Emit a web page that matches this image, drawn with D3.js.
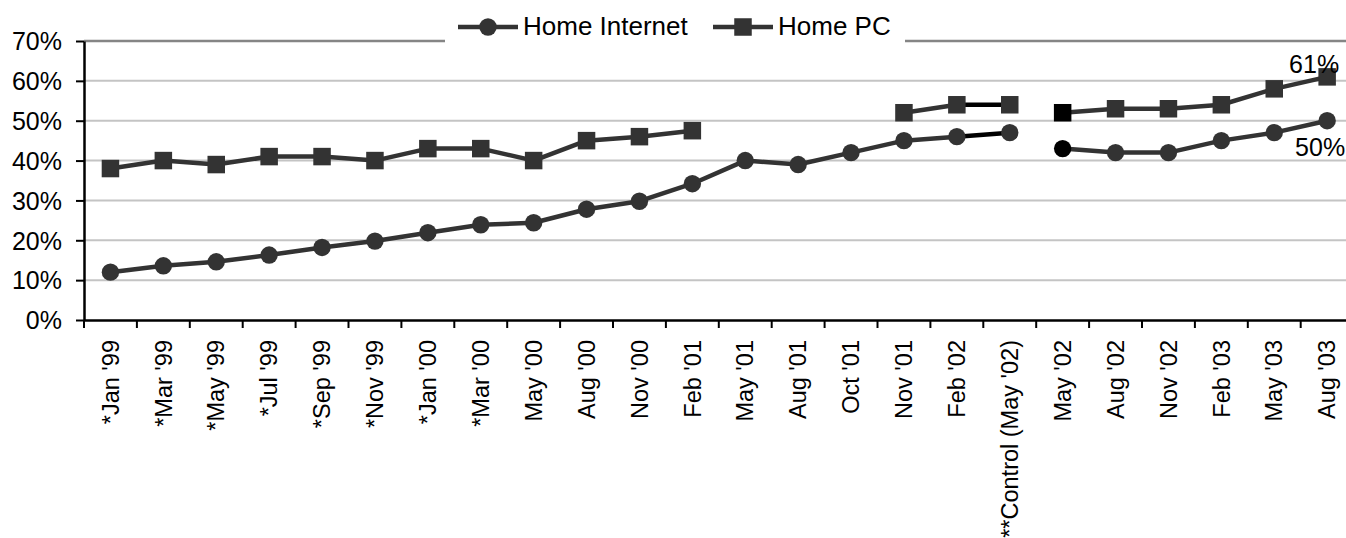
<!DOCTYPE html>
<html>
<head>
<meta charset="utf-8">
<script src="https://cdn.jsdelivr.net/npm/d3@7"></script>
<style>
  body { margin: 0; background: #fff; }
  svg text { font-family: "Liberation Sans", Arial, sans-serif; fill: #000; }
</style>
</head>
<body>
<svg id="chart" width="1346" height="538"></svg>
<script>
// Survey waves
const categories = [
  "*Jan '99", "*Mar '99", "*May '99", "*Jul '99", "*Sep '99", "*Nov '99",
  "*Jan '00", "*Mar '00", "May '00", "Aug '00", "Nov '00", "Feb '01",
  "May '01", "Aug '01", "Oct '01", "Nov '01", "Feb '02", "**Control (May '02)",
  "May '02", "Aug '02", "Nov '02", "Feb '03", "May '03", "Aug '03"
];

// Share of households (%)
const homeInternet = [12, 13.6, 14.6, 16.3, 18.2, 19.8, 21.9, 23.9, 24.4, 27.8, 29.8, 34.2,
                      40, 39, 42, 45, 46, 47, 43, 42, 42, 45, 47, 50];
const homePC = [38, 40, 39, 41, 41, 40, 43, 43, 40, 45, 46, 47.5,
                null, null, null, 52, 54, 54, 52, 53, 53, 54, 58, 61];

const yTicks = [0, 10, 20, 30, 40, 50, 60, 70];

// The control wave is joined to the preceding wave only; the new series starts fresh
const breakAfter = ["**Control (May '02)"];
const darkSegmentStart = ["Feb '02"];
const darkMarkers = ["May '02"];

const svg = d3.select("#chart");
const plotLeft = 84, plotTop = 41, plotBottom = 320;
const bandW = 52.9;

const x = d3.scaleBand()
  .domain(categories)
  .range([plotLeft, plotLeft + bandW * categories.length])
  .padding(0);

const y = d3.scaleLinear().domain([0, 70]).range([plotBottom, plotTop]);

const lineColor = "#333333";

// Gridlines
svg.append("g")
  .selectAll("line")
  .data(yTicks.filter(t => t > 0))
  .join("line")
  .attr("x1", plotLeft).attr("x2", 1346)
  .attr("y1", d => y(d)).attr("y2", d => y(d))
  .attr("stroke", d => d === 70 ? "#858585" : "#c4c4c4")
  .attr("stroke-width", d => d === 70 ? 2.5 : 2);

// Y axis
const yAxis = svg.append("g")
  .attr("transform", `translate(${plotLeft},0)`)
  .call(d3.axisLeft(y).tickValues(yTicks).tickFormat(d => d + "%")
        .tickSize(8).tickSizeOuter(0).tickPadding(14));
yAxis.select(".domain").attr("stroke", "#000").attr("stroke-width", 2.5);
yAxis.selectAll(".tick line").attr("stroke", "#000").attr("stroke-width", 2);
yAxis.selectAll(".tick text").style("font-size", "25px").attr("dy", "0.35em");

// X axis
const xAxis = svg.append("g")
  .attr("transform", `translate(0,${plotBottom})`)
  .call(d3.axisBottom(x).tickSize(0).tickSizeOuter(0));
xAxis.select(".domain").attr("stroke", "#000").attr("stroke-width", 2.5);
xAxis.selectAll(".tick text")
  .style("font-size", "23.5px")
  .attr("text-anchor", "end")
  .attr("transform", "translate(0,20) rotate(-90)")
  .attr("x", 0).attr("y", 0)
  .attr("dy", "0.35em");

// Tick marks sit on the band boundaries
const boundaries = categories.map(c => x(c)).concat([x(categories[categories.length - 1]) + x.bandwidth()]);
svg.append("g")
  .selectAll("line")
  .data(boundaries)
  .join("line")
  .attr("x1", d => d).attr("x2", d => d)
  .attr("y1", plotBottom).attr("y2", plotBottom + 8)
  .attr("stroke", "#000").attr("stroke-width", 2);

const cx = i => x(categories[i]) + x.bandwidth() / 2;

function segments(values) {
  const segs = [];
  for (let i = 0; i < values.length - 1; i++) {
    if (values[i] == null || values[i + 1] == null) continue;
    if (breakAfter.includes(categories[i])) continue;
    segs.push({ i, dark: darkSegmentStart.includes(categories[i]), a: values[i], b: values[i + 1] });
  }
  return segs;
}

const seriesList = [
  { name: "Home Internet", values: homeInternet, shape: "circle" },
  { name: "Home PC", values: homePC, shape: "square" }
];

seriesList.forEach(s => {
  const g = svg.append("g");
  g.selectAll("line")
    .data(segments(s.values))
    .join("line")
    .attr("x1", d => cx(d.i)).attr("y1", d => y(d.a))
    .attr("x2", d => cx(d.i + 1)).attr("y2", d => y(d.b))
    .attr("stroke", d => d.dark ? "#000" : lineColor)
    .attr("stroke-width", 4.5)
    .attr("stroke-linecap", "round");

  const pts = s.values.map((v, i) => ({ v, i })).filter(d => d.v != null);
  const fill = d => darkMarkers.includes(categories[d.i]) ? "#000" : lineColor;
  if (s.shape === "circle") {
    g.selectAll("circle").data(pts).join("circle")
      .attr("cx", d => cx(d.i)).attr("cy", d => y(d.v)).attr("r", 8.7)
      .attr("fill", fill);
  } else {
    const sz = 17.5;
    g.selectAll("rect").data(pts).join("rect")
      .attr("x", d => cx(d.i) - sz / 2).attr("y", d => y(d.v) - sz / 2)
      .attr("width", sz).attr("height", sz)
      .attr("fill", fill);
  }
});

// Value labels on the latest wave
const last = categories.length - 1;
svg.append("text")
  .attr("x", cx(last) + 12).attr("y", y(homePC[last]) - 4)
  .attr("text-anchor", "end").style("font-size", "25px")
  .text(homePC[last] + "%");
svg.append("text")
  .attr("x", cx(last) + 18).attr("y", y(homeInternet[last]) + 35)
  .attr("text-anchor", "end").style("font-size", "25px")
  .text(homeInternet[last] + "%");

// Legend
const legend = svg.append("g");
legend.append("rect").attr("x", 445).attr("y", 2).attr("width", 460).attr("height", 46).attr("fill", "#fff");
const items = [
  { name: seriesList[0].name, shape: "circle", x0: 458 },
  { name: seriesList[1].name, shape: "square", x0: 713 }
];
items.forEach(it => {
  const ly = 27;
  legend.append("line")
    .attr("x1", it.x0).attr("x2", it.x0 + 60).attr("y1", ly).attr("y2", ly)
    .attr("stroke", lineColor).attr("stroke-width", 4.5);
  if (it.shape === "circle") {
    legend.append("circle").attr("cx", it.x0 + 30).attr("cy", ly).attr("r", 8.7).attr("fill", lineColor);
  } else {
    legend.append("rect").attr("x", it.x0 + 30 - 8.75).attr("y", ly - 8.75)
      .attr("width", 17.5).attr("height", 17.5).attr("fill", lineColor);
  }
  legend.append("text")
    .attr("x", it.x0 + 65).attr("y", 35)
    .style("font-size", "26px")
    .text(it.name);
});
</script>
</body>
</html>
